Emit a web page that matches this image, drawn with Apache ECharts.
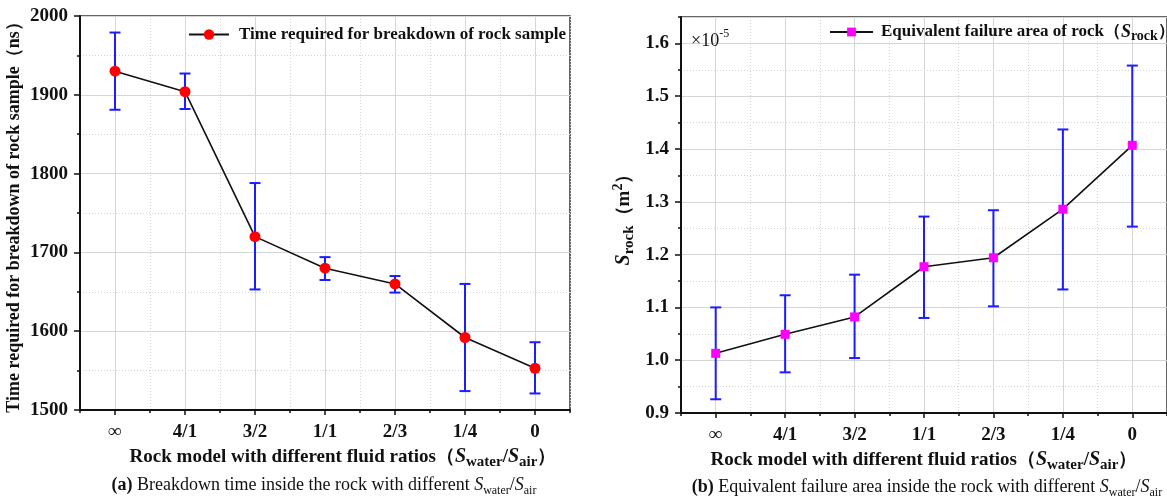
<!DOCTYPE html>
<html>
<head>
<meta charset="utf-8">
<script src="https://cdn.jsdelivr.net/npm/echarts@6/dist/echarts.min.js"></script>
<style>
  html, body { margin: 0; padding: 0; background: #fff; }
  #chart { width: 1167px; height: 502px; }
</style>
</head>
<body>
<div id="chart"></div>
<script>
// ---------- data ----------
const categories = ['∞', '4/1', '3/2', '1/1', '2/3', '1/4', '0'];

// (a) breakdown time, ns
const breakdownTime     = [1930, 1904, 1720, 1680, 1660, 1592, 1553];
const breakdownTimeLow  = [1881, 1882, 1653, 1665, 1649, 1524, 1521];
const breakdownTimeHigh = [1979, 1927, 1788, 1694, 1670, 1660, 1586];

// (b) equivalent failure area, ×1e-5 m²
const failureArea     = [1.013, 1.049, 1.082, 1.177, 1.194, 1.286, 1.407];
const failureAreaLow  = [0.926, 0.977, 1.004, 1.080, 1.102, 1.134, 1.253];
const failureAreaHigh = [1.100, 1.123, 1.162, 1.272, 1.284, 1.437, 1.558];

const timeAxisTicks = { min: 1500, max: 2000, step: 100 };
const areaAxisTicks = { min: 0.9, max: 1.65, step: 0.1 };

// ---------- styles ----------
const FONT = "'Liberation Serif', 'Times New Roman', serif";
const INK = '#111';
const BLUE = '#1c1cff';

const subRich = {
  n:   { fontFamily: FONT, fontWeight: 'bold', fontSize: 19, color: INK, lineHeight: 26, verticalAlign: 'middle' },
  i:   { fontFamily: FONT, fontWeight: 'bold', fontStyle: 'italic', fontSize: 20, color: INK, lineHeight: 26, verticalAlign: 'middle' },
  sub: { fontFamily: FONT, fontWeight: 'bold', fontSize: 15, color: INK, lineHeight: 15, verticalAlign: 'bottom' },
  sup: { fontFamily: FONT, fontWeight: 'bold', fontSize: 14, color: INK, lineHeight: 14, verticalAlign: 'top' }
};
const capRich = {
  b:   { fontFamily: FONT, fontWeight: 'bold', fontSize: 18, color: INK, lineHeight: 24, verticalAlign: 'middle' },
  n:   { fontFamily: FONT, fontWeight: 'normal', fontSize: 18, color: INK, lineHeight: 24, verticalAlign: 'middle' },
  i:   { fontFamily: FONT, fontWeight: 'normal', fontStyle: 'italic', fontSize: 18, color: INK, lineHeight: 24, verticalAlign: 'middle' },
  sub: { fontFamily: FONT, fontWeight: 'normal', fontSize: 12, color: INK, lineHeight: 12, verticalAlign: 'bottom' }
};

const xNameText = '{n|Rock model with different fluid ratios（}{i|S}{sub|water}{n|/}{i|S}{sub|air}{n|）}';

function errorBarRender(params, api) {
  const x = api.value(0);
  const lo = api.coord([x, api.value(1)]);
  const hi = api.coord([x, api.value(2)]);
  const half = 5.5;
  const style = { stroke: BLUE, lineWidth: 2, fill: null };
  return {
    type: 'group',
    children: [
      { type: 'line', shape: { x1: lo[0], y1: lo[1], x2: hi[0], y2: hi[1] }, style: style },
      { type: 'line', shape: { x1: lo[0] - half, y1: lo[1], x2: lo[0] + half, y2: lo[1] }, style: style },
      { type: 'line', shape: { x1: hi[0] - half, y1: hi[1], x2: hi[0] + half, y2: hi[1] }, style: style }
    ]
  };
}

function catAxis(gridIndex, namePadding) {
  return {
    type: 'category', gridIndex: gridIndex, data: categories, boundaryGap: true, position: 'bottom',
    axisLine: { show: true, lineStyle: { color: INK, width: 2 } },
    axisTick: { show: true, alignWithLabel: true, length: 5, lineStyle: { color: INK, width: 1.5 } },
    axisLabel: { fontFamily: FONT, fontWeight: 'bold', fontSize: 19, color: INK, margin: 13 },
    splitLine: { show: false },
    name: xNameText, nameLocation: 'middle', nameGap: 29,
    nameTextStyle: { rich: subRich, padding: namePadding }
  };
}
function bandGridAxis(gridIndex) {
  return {
    type: 'value', gridIndex: gridIndex, position: 'bottom', min: 0, max: categories.length, interval: 1,
    axisLine: { show: false }, axisLabel: { show: false },
    axisTick: { show: true, length: 3, lineStyle: { color: INK, width: 1.5 } },
    splitLine: { show: true, lineStyle: { color: '#d4d4d4', width: 1, type: [1, 2] } },
    minorTick: { show: false, splitNumber: 2 },
    minorSplitLine: { show: true, lineStyle: { color: '#d6d6d6', width: 1 } }
  };
}

const chart = echarts.init(document.getElementById('chart'), null, { renderer: 'canvas' });

const option = {
  backgroundColor: '#fff',
  animation: false,
  grid: [
    { left: 80, top: 16, width: 490, height: 394, show: true, borderColor: '#333', borderWidth: 1.5, backgroundColor: 'transparent' },
    { left: 681, top: 17, width: 492, height: 396, show: true, borderColor: '#333', borderWidth: 1.5, backgroundColor: 'transparent' }
  ],
  title: [
    { text: '{b|(a)}{n| Breakdown time inside the rock with different }{i|S}{sub|water}{n|/}{i|S}{sub|air}',
      left: 324, top: 473, textAlign: 'center', padding: 0, textStyle: { fontWeight: 'normal', rich: capRich } },
    { text: '{b|(b)}{n| Equivalent failure area inside the rock with different }{i|S}{sub|water}{n|/}{i|S}{sub|air}',
      left: 927, top: 475, textAlign: 'center', padding: 0, textStyle: { fontWeight: 'normal', rich: capRich } },
    { text: '{n|×10}{s|-5}', left: 691, top: 28, padding: 0,
      textStyle: { fontWeight: 'normal', rich: {
        n: { fontFamily: FONT, fontWeight: 'normal', fontSize: 18, color: INK, lineHeight: 22, verticalAlign: 'bottom' },
        s: { fontFamily: FONT, fontWeight: 'normal', fontSize: 12, color: INK, lineHeight: 12, verticalAlign: 'top' } } } }
  ],
  legend: [
    { data: ['Time required for breakdown of rock sample'], left: 188, top: 26, padding: 0,
      itemWidth: 40, itemHeight: 13,
      textStyle: { fontFamily: FONT, fontWeight: 'bold', fontSize: 17, color: INK, padding: [0, 0, 0, 5] } },
    { data: ['Equivalent failure area of rock'], left: 829, top: 23, padding: 0,
      itemWidth: 43, itemHeight: 11,
      formatter: function () { return '{n|Equivalent failure area of rock（}{i|S}{sub|rock}{n|）}'; },
      textStyle: { padding: [0, 0, 0, 3], rich: {
        n: { fontFamily: FONT, fontWeight: 'bold', fontSize: 17, color: INK, lineHeight: 22, verticalAlign: 'middle' },
        i: { fontFamily: FONT, fontWeight: 'bold', fontStyle: 'italic', fontSize: 18, color: INK, lineHeight: 22, verticalAlign: 'middle' },
        sub: { fontFamily: FONT, fontWeight: 'bold', fontSize: 14, color: INK, lineHeight: 14, verticalAlign: 'bottom' } } } }
  ],
  xAxis: [
    catAxis(0, [0, 0, 0, 36]),
    bandGridAxis(0),
    catAxis(1, [0, 0, 0, 0]),
    bandGridAxis(1)
  ],
  yAxis: [
    { type: 'value', gridIndex: 0, position: 'left',
      min: timeAxisTicks.min, max: timeAxisTicks.max, interval: timeAxisTicks.step,
      axisLine: { show: true, lineStyle: { color: INK, width: 2 } },
      axisTick: { show: true, length: 6, lineStyle: { color: INK, width: 1.5 } },
      minorTick: { show: true, splitNumber: 2, length: 3, lineStyle: { color: INK, width: 1.5 } },
      axisLabel: { fontFamily: FONT, fontWeight: 'bold', fontSize: 19, color: INK, margin: 12,
        formatter: function (v) { return String(v); } },
      splitLine: { show: true, lineStyle: { color: '#d6d6d6', width: 1 } },
      minorSplitLine: { show: true, lineStyle: { color: '#d4d4d4', width: 1, type: [1, 2] } },
      name: 'Time required for breakdown of rock sample（ns）', nameLocation: 'middle', nameGap: 57,
      nameTextStyle: { fontFamily: FONT, fontWeight: 'bold', fontSize: 18, color: INK } },
    { type: 'value', gridIndex: 1, position: 'left',
      min: areaAxisTicks.min, max: areaAxisTicks.max, interval: areaAxisTicks.step,
      axisLine: { show: true, lineStyle: { color: INK, width: 2 } },
      axisTick: { show: true, length: 6, lineStyle: { color: INK, width: 1.5 } },
      axisLabel: { fontFamily: FONT, fontWeight: 'bold', fontSize: 19, color: INK, margin: 12, showMaxLabel: false,
        formatter: function (v) { return Math.abs(v - areaAxisTicks.max) < 1e-9 ? '' : v.toFixed(1); } },
      splitLine: { show: true, lineStyle: { color: '#d6d6d6', width: 1 } },
      name: '{i|S}{sub|rock}{n|（m}{sup|2}{n|）}', nameLocation: 'middle', nameGap: 44,
      nameTextStyle: { rich: subRich } },
    { type: 'value', gridIndex: 1, position: 'left',
      min: areaAxisTicks.min, max: areaAxisTicks.max, interval: areaAxisTicks.step / 2,
      axisLine: { show: false }, axisLabel: { show: false },
      axisTick: { show: true, length: 3, lineStyle: { color: INK, width: 1.5 } },
      splitLine: { show: true, lineStyle: { color: '#d4d4d4', width: 1, type: [1, 2] } } }
  ],
  series: [
    { type: 'custom', name: 'timeErr', xAxisIndex: 0, yAxisIndex: 0, z: 2,
      renderItem: errorBarRender, encode: { x: 0, y: [1, 2] },
      data: categories.map(function (c, i) { return [i, breakdownTimeLow[i], breakdownTimeHigh[i]]; }) },
    { type: 'line', name: 'Time required for breakdown of rock sample', xAxisIndex: 0, yAxisIndex: 0, z: 3,
      data: breakdownTime, symbol: 'circle', symbolSize: 11,
      lineStyle: { color: INK, width: 1.6 }, itemStyle: { color: '#ff0000', borderWidth: 0 } },
    { type: 'custom', name: 'areaErr', xAxisIndex: 2, yAxisIndex: 1, z: 2,
      renderItem: errorBarRender, encode: { x: 0, y: [1, 2] },
      data: categories.map(function (c, i) { return [i, failureAreaLow[i], failureAreaHigh[i]]; }) },
    { type: 'line', name: 'Equivalent failure area of rock', xAxisIndex: 2, yAxisIndex: 1, z: 3,
      data: failureArea, symbol: 'rect', symbolSize: 9,
      lineStyle: { color: INK, width: 1.6 }, itemStyle: { color: '#ff00ff', borderWidth: 0 } }
  ]
};
chart.setOption(option);
</script>
</body>
</html>
